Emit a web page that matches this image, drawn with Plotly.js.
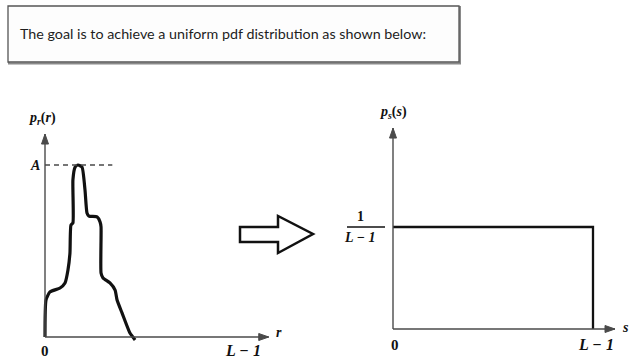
<!DOCTYPE html>
<html>
<head>
<meta charset="utf-8">
<script src="https://cdn.plot.ly/plotly-3.0.1.min.js"></script>
<style>
  html, body { margin: 0; padding: 0; background: #ffffff; }
  #chart { width: 629px; height: 360px; }
</style>
</head>
<body>
<div id="chart"></div>
<script>
// Input histogram p_r(r): r normalised so that 1 = L-1, p normalised so that 1 = A
const rVals  = [0, 0.005, 0.025, 0.076, 0.101, 0.116, 0.126, 0.131, 0.141, 0.141, 0.152, 0.167, 0.187,
                0.202, 0.212, 0.222, 0.263, 0.278, 0.283, 0.283, 0.293, 0.328, 0.354, 0.364, 0.389, 0.429, 0.455];
const prVals = [0, 0.215, 0.262, 0.285, 0.314, 0.390, 0.488, 0.651, 0.663, 0.913, 0.988, 1.0, 0.988,
                0.855, 0.721, 0.703, 0.698, 0.669, 0.640, 0.372, 0.343, 0.314, 0.273, 0.215, 0.140, 0.023, -0.017];

// Target uniform pdf p_s(s) = 1/(L-1) on [0, L-1]
const sVals  = [0, 1, 1];
const psVals = [1, 1, 0];

// Axis tick labels
const rTickLabels = ['0', 'L − 1'];
const sTickLabels = ['0', 'L − 1'];
const peakLabel = 'A';
const levelNum = '1';
const levelDen = 'L − 1';

const W = 629, H = 360;
const fx = px => px / W;
const fy = py => 1 - py / H;

// map a pixel span to a data range given the pixels of value 0 and value 1
function rangeFor(lo, hi, p0, p1) {
  const a = (lo - p0) / (p1 - p0), b = (hi - p0) / (p1 - p0);
  return a < b ? [a, b] : [b, a];
}

const serif = 'Liberation Serif, Times New Roman, serif';
const axisColor = '#4a4a4a';
const ink = '#111111';

const hidden = {showgrid: false, zeroline: false, showline: false, showticklabels: false, ticks: '', fixedrange: true};

const layout = {
  width: W, height: H,
  margin: {l: 0, r: 0, t: 0, b: 0},
  paper_bgcolor: '#ffffff',
  plot_bgcolor: 'rgba(0,0,0,0)',
  showlegend: false,
  xaxis:  Object.assign({}, hidden, {domain: [fx(20), fx(300)],  range: rangeFor(20, 300, 45, 243), anchor: 'y'}),
  yaxis:  Object.assign({}, hidden, {domain: [fy(350), fy(100)], range: rangeFor(350, 100, 337, 165), anchor: 'x'}),
  xaxis2: Object.assign({}, hidden, {domain: [fx(330), fx(629)], range: rangeFor(330, 629, 393, 593), anchor: 'y2'}),
  yaxis2: Object.assign({}, hidden, {domain: [fy(350), fy(100)], range: rangeFor(350, 100, 329, 227), anchor: 'x2'}),
  shapes: [
    // caption box with a soft drop edge
    {type: 'rect', xref: 'paper', yref: 'paper', x0: fx(9), x1: fx(460), y0: fy(7), y1: fy(63.5),
     line: {color: '#8a8a8a', width: 2}, fillcolor: 'rgba(0,0,0,0)'},
    {type: 'rect', xref: 'paper', yref: 'paper', x0: fx(8), x1: fx(459), y0: fy(6), y1: fy(62),
     line: {color: '#555555', width: 1.3}, fillcolor: '#fdfdfd'},
    // dashed guide at the peak value A
    {type: 'line', xref: 'x', yref: 'y', x0: 0, x1: 0.34, y0: 1, y1: 1,
     line: {color: axisColor, width: 1.5, dash: '5px,4px'}},
    // fraction bar of 1/(L-1)
    {type: 'line', xref: 'paper', yref: 'y2', x0: fx(347), x1: fx(385), y0: 1, y1: 1,
     line: {color: ink, width: 1.5}},
    // hollow block arrow between the panels
    {type: 'path', xref: 'paper', yref: 'paper',
     path: 'M ' + [[240,227],[278,227],[278,216],[313,234],[278,253],[278,242],[240,242]]
             .map(p => fx(p[0]) + ',' + fy(p[1])).join(' L ') + ' Z',
     line: {color: ink, width: 2.5}, fillcolor: '#ffffff'}
  ],
  annotations: []
};

// axis line ending in a small filled arrowhead (head sized in pixels)
function axisLine(xr, yr, xEnd, yEnd) {
  const vertical = xEnd === 0;
  layout.shapes.push({type: 'line', xref: xr, yref: yr, x0: 0, y0: 0,
                      x1: xEnd, y1: yEnd, line: {color: axisColor, width: 1.4}});
  layout.shapes.push({type: 'path', xref: xr, yref: yr,
                      xsizemode: 'pixel', ysizemode: 'pixel', xanchor: xEnd, yanchor: yEnd,
                      path: vertical ? 'M0,0 L-3.5,-10 L3.5,-10 Z' : 'M0,0 L-10,3.5 L-10,-3.5 Z',
                      fillcolor: axisColor, line: {color: axisColor, width: 1}});
}
function label(xr, yr, x, y, text, opts) {
  return Object.assign({xref: xr, yref: yr, x: x, y: y, text: text, showarrow: false}, opts || {});
}
const mathFont = (size) => ({family: serif, size: size, color: ink, weight: 'bold'});

const ax = layout.annotations;
// caption
ax.push({xref: 'paper', yref: 'paper', x: fx(18), y: fy(33), xanchor: 'left', yanchor: 'middle', showarrow: false,
         text: 'The goal is to achieve a uniform pdf distribution as shown below:',
         font: {family: 'Lato, Liberation Sans, sans-serif', size: 14.3, color: '#1e1e1e'}});

// left panel axes
axisLine('x', 'y', 0, 1.18);
axisLine('x', 'y', 1.13, 0);
ax.push(label('x', 'y', 0, 1.18, '<i>p</i><sub><i>r</i></sub>(<i>r</i>)', {yanchor: 'bottom', yshift: 5, xshift: -3, font: mathFont(14)}));
ax.push(label('x', 'y', 0, 1, '<i>' + peakLabel + '</i>', {xanchor: 'right', xshift: -3, font: mathFont(14)}));
ax.push(label('x', 'y', 0, 0, rTickLabels[0], {yanchor: 'top', yshift: -4, font: mathFont(15)}));
ax.push(label('x', 'y', 1, 0, '<i>' + rTickLabels[1] + '</i>', {yanchor: 'top', yshift: -3, font: mathFont(16)}));
ax.push(label('x', 'y', 1.13, 0, '<i>r</i>', {xanchor: 'left', xshift: 5, yshift: 5, font: mathFont(14)}));

// right panel axes
axisLine('x2', 'y2', 0, 1.97);
axisLine('x2', 'y2', 1.11, 0);
ax.push(label('x2', 'y2', 0, 1.97, '<i>p</i><sub><i>s</i></sub>(<i>s</i>)', {yanchor: 'bottom', yshift: 5, font: mathFont(14)}));
ax.push(label('x2', 'y2', -0.165, 1, levelNum, {yanchor: 'bottom', yshift: 1, font: mathFont(14)}));
ax.push(label('x2', 'y2', -0.165, 1, '<i>' + levelDen + '</i>', {yanchor: 'top', yshift: -1, font: mathFont(14)}));
ax.push(label('x2', 'y2', 0, 0, sTickLabels[0], {yanchor: 'top', yshift: -6, xshift: 2, font: mathFont(15)}));
ax.push(label('x2', 'y2', 1, 0, '<i>' + sTickLabels[1] + '</i>', {yanchor: 'top', yshift: -5, xshift: 3, font: mathFont(16)}));
ax.push(label('x2', 'y2', 1.11, 0, '<i>s</i>', {xanchor: 'left', xshift: 5, yshift: 2, font: mathFont(14)}));

const traces = [
  {x: rVals, y: prVals, xaxis: 'x', yaxis: 'y', type: 'scatter', mode: 'lines',
   line: {color: ink, width: 3.2, shape: 'spline', smoothing: 0.5}, hoverinfo: 'skip'},
  {x: sVals, y: psVals, xaxis: 'x2', yaxis: 'y2', type: 'scatter', mode: 'lines',
   line: {color: ink, width: 2.3}, hoverinfo: 'skip'}
];

Plotly.newPlot('chart', traces, layout, {staticPlot: true, displayModeBar: false});
</script>
</body>
</html>
